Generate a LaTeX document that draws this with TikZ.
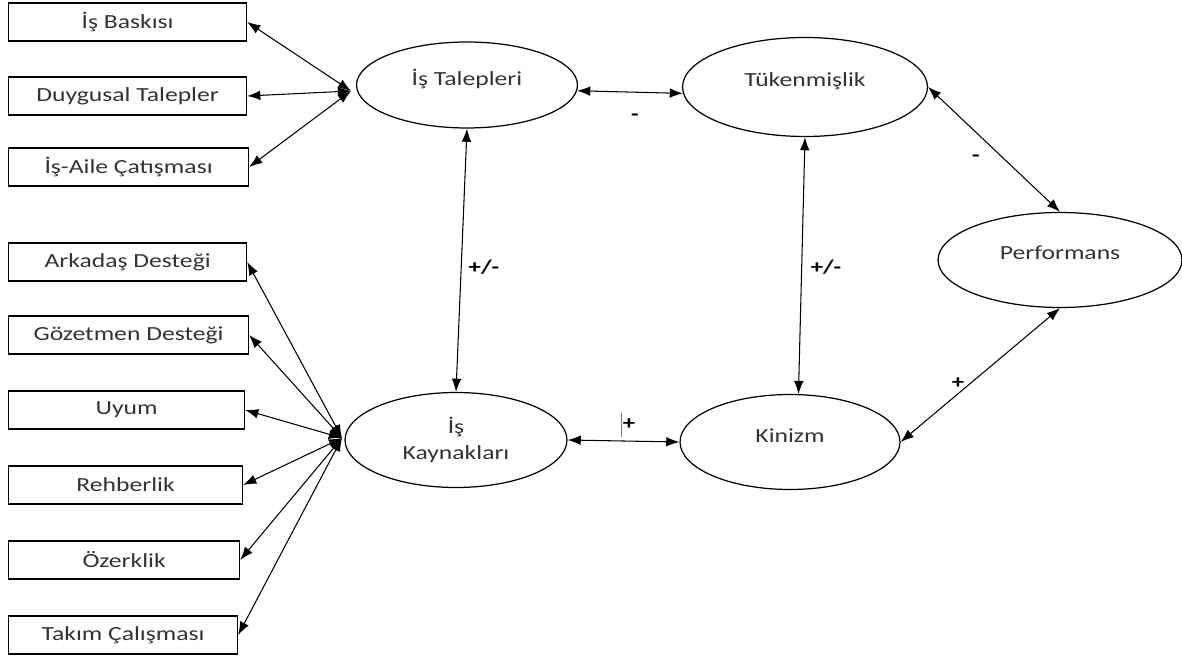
\documentclass[tikz,border=0pt]{standalone}
\usepackage{fontspec}
\setmainfont{Carlito}[FakeStretch=1.28]
\usetikzlibrary{shapes.geometric,arrows.meta}

\begin{document}
\begin{tikzpicture}[x=0.02cm, y=-0.02cm,
    box/.style={draw, line width=0.7pt, anchor=west, minimum height=0.76cm, inner sep=0pt, text=black!80, font=\fontsize{11.4}{12}\selectfont},
    oval/.style={draw, ellipse, line width=0.7pt, inner sep=0pt, align=center, text=black!80, font=\fontsize{11.4}{15}\selectfont},
    link/.style={{Latex[length=7.5pt,width=5.5pt]}-{Latex[length=7.5pt,width=5.5pt]}, line width=0.6pt},
    sign/.style={inner sep=0pt, font=\bfseries\fontsize{11}{12}\selectfont}]
    \useasboundingbox (0,0) rectangle (1182,658);

    % Job demands
    \node[box, minimum width=4.76cm] (baski) at (8,22) {İş Baskısı};
    \node[box, minimum width=4.76cm] (duygu) at (8,96) {Duygusal Talepler};
    \node[box, minimum width=4.80cm] (aile) at (8,167) {İş-Aile Çatışması};

    % Job resources
    \node[box, minimum width=4.76cm] (arkadas) at (8,262) {Arkadaş Desteği};
    \node[box, minimum width=4.80cm] (gozetmen) at (8,335) {Gözetmen Desteği};
    \node[box, minimum width=4.72cm] (uyum) at (8,410) {Uyum};
    \node[box, minimum width=4.68cm] (rehber) at (8,485) {Rehberlik};
    \node[box, minimum width=4.62cm] (ozerk) at (8,560) {Özerklik};
    \node[box, minimum width=4.58cm] (takim) at (8,635) {Takım Çalışması};

    % Latent constructs
    \node[oval, minimum width=4.42cm, minimum height=1.72cm, text depth=9pt] (talep) at (467,85) {İş Talepleri};
    \node[oval, minimum width=4.90cm, minimum height=1.98cm, text depth=9pt] (tuken) at (805,87) {Tükenmişlik};
    \node[oval, minimum width=4.44cm, minimum height=1.90cm] (kaynak) at (456,440) {İş\\Kaynakları};
    \node[oval, minimum width=4.40cm, minimum height=1.90cm, text depth=7pt] (kinizm) at (790,442) {Kinizm};
    \node[oval, minimum width=4.88cm, minimum height=1.90cm, text depth=8pt] (perf) at (1060,260) {Performans};

    % Meeting points of the indicator arrows
    \coordinate (talepIn) at (351,91);
    \coordinate (kaynakIn) at (342,438);

    \draw[link] (baski.east) -- (talepIn);
    \draw[link] (duygu.east) -- (talepIn);
    \draw[link] (aile.east) -- (talepIn);

    \draw[link] (arkadas.east) -- (kaynakIn);
    \draw[link] (gozetmen.east) -- (kaynakIn);
    \draw[link] (uyum.east) -- (kaynakIn);
    \draw[link] (rehber.east) -- (kaynakIn);
    \draw[link] (ozerk.east) -- (kaynakIn);
    \draw[link] (takim.east) -- (kaynakIn);

    % Paths between constructs
    \draw[link] (talep.-3) -- (tuken.183);
    \draw[link] (talep.south) -- (kaynak.north);
    \draw[link] (tuken.south) -- (kinizm.80);
    \draw[link] (kaynak.east) -- (kinizm.west);
    \draw[link] (tuken.east) -- (perf.north);
    \draw[link] (kinizm.east) -- (perf.south);

    % Signs
    \node[sign] (s1) at (635,117) {-};
    \node[sign] (s2) at (484,267) {+/-};
    \node[sign] (s3) at (826,267) {+/-};
    \node[sign] (s4) at (629,424) {+};
    \node[sign] (s5) at (976,158) {-};
    \node[sign] (s6) at (958,383) {+};
    \draw[gray, line width=0.5pt] (621,413) -- (621,437);
\end{tikzpicture}
\end{document}
